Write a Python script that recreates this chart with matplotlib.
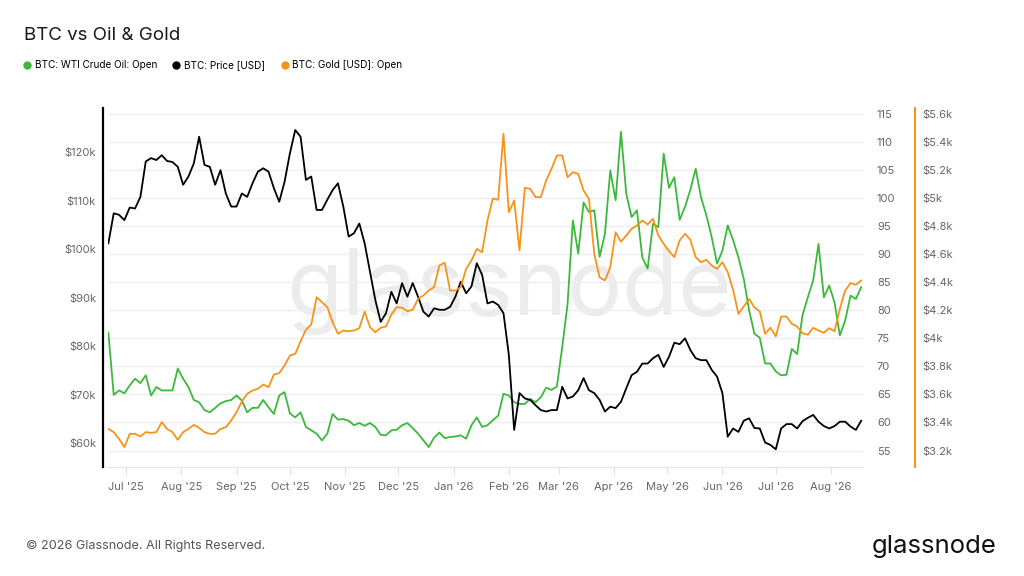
import matplotlib
matplotlib.use("Agg")
import matplotlib.pyplot as plt
import matplotlib.dates as mdates
from matplotlib.lines import Line2D
from matplotlib.ticker import FixedLocator, FuncFormatter
import pandas as pd

plt.rcParams['font.family'] = ['Inter', 'DejaVu Sans']

# data, one point every 3 days
dates = pd.date_range('2025-06-21', periods=142, freq='3D')

btc_price_k = [
    101.2, 107.4, 107.1, 106.0, 108.6, 108.4, 110.8, 118.1, 118.8, 118.4,
    119.4, 118.2, 118.0, 117.0, 113.3, 115.0, 117.7, 123.2, 117.4, 117.0,
    113.3, 116.3, 111.5, 108.8, 108.8, 111.5, 110.8, 113.6, 116.0, 116.7,
    116.0, 112.6, 109.8, 113.9, 119.8, 124.6, 123.2, 114.3, 115.0, 108.1,
    108.1, 110.2, 112.2, 113.6, 108.8, 102.6, 103.3, 105.3, 101.2, 95.4,
    89.5, 85.0, 86.8, 91.2, 88.8, 93.0, 90.2, 93.0, 90.2, 87.1,
    86.1, 87.8, 87.5, 87.5, 88.1, 90.2, 93.3, 90.9, 92.3, 97.1,
    94.7, 88.8, 89.2, 88.5, 86.8, 78.2, 62.7, 70.3, 69.2, 68.9,
    67.8, 66.8, 66.5, 66.8, 66.8, 71.6, 69.2, 69.6, 70.9, 73.4,
    70.9, 70.3, 68.9, 66.5, 67.5, 67.2, 68.5, 71.3, 74.0, 74.7,
    76.4, 76.4, 77.5, 78.2, 75.7, 77.8, 80.7, 80.4, 81.6, 79.2,
    77.5, 77.1, 77.1, 75.1, 73.7, 70.3, 61.3, 63.0, 62.3, 64.6,
    65.1, 63.1, 63.0, 60.1, 59.6, 58.7, 63.0, 63.9, 63.9, 63.0,
    64.5, 65.2, 65.8, 64.4, 63.5, 63.0, 63.5, 64.4, 64.4, 63.4,
    62.7, 64.6,
]

oil_open = [
    76.0, 64.9, 65.7, 65.2, 66.6, 67.8, 67.0, 68.4, 64.8, 66.3,
    65.7, 65.7, 65.7, 69.6, 67.8, 66.3, 64.0, 63.6, 62.2, 61.8,
    62.6, 63.4, 63.8, 64.0, 64.8, 63.9, 61.8, 62.6, 62.6, 64.0,
    62.7, 61.5, 64.8, 65.4, 61.6, 60.9, 61.8, 59.2, 58.6, 58.0,
    56.8, 58.0, 61.5, 60.5, 60.6, 60.3, 59.5, 59.9, 59.4, 59.9,
    59.2, 57.8, 57.7, 58.6, 58.7, 59.5, 59.9, 59.0, 58.0, 56.8,
    55.6, 57.3, 58.2, 57.2, 57.4, 57.5, 57.7, 57.1, 59.5, 60.9,
    59.2, 59.5, 60.4, 61.2, 65.1, 64.8, 63.6, 63.3, 63.3, 64.2,
    63.6, 64.5, 66.2, 65.8, 66.4, 73.4, 81.1, 96.0, 90.1, 99.2,
    97.5, 97.8, 89.5, 93.6, 104.9, 99.6, 111.8, 100.7, 96.6, 97.8,
    89.4, 87.4, 95.4, 94.8, 107.9, 101.8, 103.7, 96.1, 98.4, 101.5,
    105.2, 100.1, 96.9, 93.0, 88.3, 90.6, 95.1, 92.5, 89.4, 85.6,
    80.0, 75.8, 75.1, 70.5, 70.5, 69.1, 68.4, 68.5, 73.1, 72.2,
    79.1, 82.3, 85.3, 91.8, 82.3, 84.4, 81.4, 75.5, 78.2, 82.6,
    82.0, 84.1,
]

gold_open = [
    3354, 3331, 3283, 3224, 3319, 3319, 3300, 3331, 3326, 3331,
    3402, 3354, 3331, 3276, 3331, 3354, 3383, 3361, 3331, 3319,
    3319, 3354, 3366, 3414, 3473, 3549, 3604, 3628, 3640, 3670,
    3651, 3742, 3751, 3806, 3877, 3889, 3979, 4060, 4098, 4293,
    4257, 4222, 4115, 4032, 4055, 4050, 4055, 4072, 4190, 4079,
    4043, 4075, 4084, 4169, 4222, 4217, 4193, 4203, 4281, 4305,
    4340, 4364, 4519, 4538, 4340, 4340, 4364, 4495, 4554, 4637,
    4613, 4839, 4996, 4987, 5457, 4899, 4982, 4626, 5072, 5065,
    5006, 5006, 5125, 5208, 5303, 5303, 5148, 5184, 5172, 5053,
    4994, 4602, 4435, 4412, 4507, 4756, 4688, 4733, 4780, 4804,
    4839, 4811, 4851, 4733, 4673, 4621, 4578, 4697, 4745, 4702,
    4578, 4542, 4559, 4519, 4495, 4542, 4471, 4345, 4174, 4226,
    4280, 4220, 4191, 4032, 4075, 4013, 4155, 4155, 4103, 4084,
    4036, 4025, 4075, 4055, 4039, 4072, 4050, 4210, 4340, 4393,
    4381, 4412,
]

btc_ticks = [60, 70, 80, 90, 100, 110, 120]
oil_ticks = list(range(55, 116, 5))
gold_ticks = [3200, 3400, 3600, 3800, 4000, 4200, 4400, 4600, 4800, 5000, 5200, 5400, 5600]

series_labels = ['BTC: WTI Crude Oil: Open', 'BTC: Price [USD]', 'BTC: Gold [USD]: Open']

GREEN = '#3cb83c'
ORANGE = '#f7931a'
BLACK = '#000000'
TICK_C = '#666666'
GRID_C = '#ededf3'

fig = plt.figure(figsize=(10.24, 5.76), dpi=100)
ax = fig.add_axes([108/1024, 1 - 467/576, 755/1024, 359/576])
ax_btc = ax.twinx()
ax_gold = ax.twinx()

# oil on the base axes (right side labels, drives the grid)
ax.plot(dates, oil_open, color=GREEN, lw=1.3)
ax.set_ylim(52.06, 116.03)
ax.yaxis.tick_right()
ax.yaxis.set_major_locator(FixedLocator(oil_ticks))
ax.tick_params(axis='y', length=0, pad=10, labelsize=8, labelcolor=TICK_C)
ax.grid(axis='y', color=GRID_C, lw=1)
ax.set_axisbelow(True)
for s in ['left', 'top', 'right']:
    ax.spines[s].set_visible(False)
ax.spines['bottom'].set_color('#e4e4ec')

ax.set_xlim(dates[0] - pd.Timedelta(hours=5), dates[0] + pd.Timedelta(days=424))
ax.xaxis.set_major_locator(mdates.MonthLocator())
ax.xaxis.set_major_formatter(mdates.DateFormatter("%b '%y"))
ax.tick_params(axis='x', length=5, color='#e0e0e8', pad=6, labelsize=8, labelcolor=TICK_C)

ax.text(0.532, 0.49, 'glassnode', transform=ax.transAxes, ha='center', va='center',
        fontsize=66, color='#ececec', zorder=0)

# btc on the left
ax_btc.plot(dates, btc_price_k, color=BLACK, lw=1.3)
ax_btc.set_ylim(55.05, 129.14)
ax_btc.yaxis.set_ticks_position('left')
ax_btc.yaxis.set_major_locator(FixedLocator(btc_ticks))
ax_btc.yaxis.set_major_formatter(FuncFormatter(lambda v, p: f'${v:g}k'))
ax_btc.tick_params(axis='y', length=0, pad=5, labelsize=8, labelcolor=TICK_C)
for s in ['top', 'bottom', 'right']:
    ax_btc.spines[s].set_visible(False)
ax_btc.spines['left'].set_position(('outward', 3.6))
ax_btc.spines['left'].set_color(BLACK)
ax_btc.spines['left'].set_linewidth(1.6)

# gold on the outer right
ax_gold.plot(dates, gold_open, color=ORANGE, lw=1.3)
ax_gold.set_ylim(3082.4, 5641.2)
ax_gold.yaxis.set_major_locator(FixedLocator(gold_ticks))
ax_gold.yaxis.set_major_formatter(FuncFormatter(lambda v, p: f'${v/1000:g}k'))
ax_gold.tick_params(axis='y', length=0, pad=5, labelsize=8, labelcolor=TICK_C)
for s in ['top', 'bottom', 'left']:
    ax_gold.spines[s].set_visible(False)
ax_gold.spines['right'].set_position(('outward', 37.4))
ax_gold.spines['right'].set_color(ORANGE)
ax_gold.spines['right'].set_linewidth(1.5)

# title, legend, footer
fig.text(24/1024, 1 - 35/576, 'BTC vs Oil & Gold', fontsize=13.5, va='center', color='#1a1a1a')

handles = [Line2D([], [], marker='o', ls='none', color=c, markersize=5)
           for c in [GREEN, BLACK, ORANGE]]
fig.legend(handles, series_labels, loc='center left', bbox_to_anchor=(22/1024, 1 - 65/576),
           ncol=3, frameon=False, fontsize=7.2, handletextpad=0.3, columnspacing=1.4,
           handlelength=1, borderaxespad=0, borderpad=0)

fig.text(26/1024, 1 - 546/576, '\u00a9 2026 Glassnode. All Rights Reserved.',
         fontsize=9.1, va='center', color='#555555')
fig.text(997/1024, 1 - 546/576, 'glassnode', fontsize=18.5, va='center', ha='right', color='#111111')

fig.savefig('out.png', dpi=100)
